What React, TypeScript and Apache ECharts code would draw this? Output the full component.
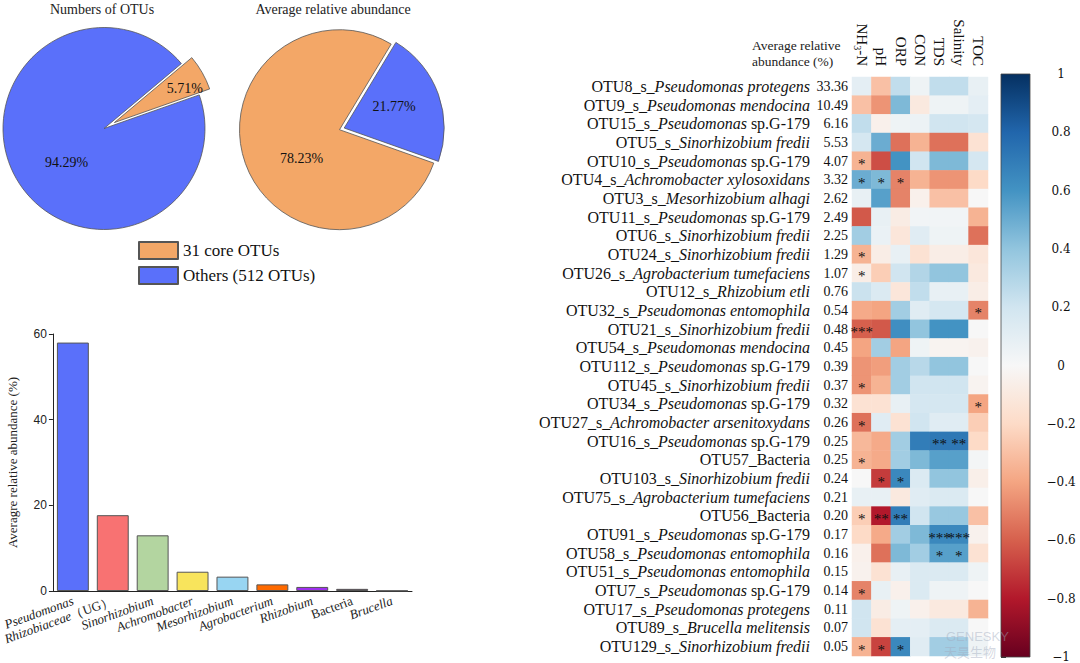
import React, { useEffect, useRef } from 'react';
import * as echarts from 'echarts';

// ---------- Pie charts ----------
const pieLegend = ['31 core OTUs', 'Others (512 OTUs)'];
const otuCountPct = [5.71, 94.29];
const abundancePct = [78.23, 21.77];
const pieTitles = ['Numbers of OTUs', 'Average relative abundance'];

// ---------- Bar chart (genus level) ----------
const genera = ['Pseudomonas', 'Rhizobiaceae', 'Sinorhizobium', 'Achromobacter', 'Mesorhizobium', 'Agrobacterium', 'Rhizobium', 'Bacteria', 'Brucella'];
const generaSuffix = ['', '（UG）', '', '', '', '', '', '', ''];
const generaItalic = [true, true, true, true, true, true, true, false, true];
const generaAbund = [58.0, 17.7, 13.0, 4.5, 3.35, 1.55, 0.95, 0.5, 0.08];
const generaColors = ['#5a70fa', '#f87272', '#b3d5a0', '#f8e45c', '#98d5f2', '#ff6a00', '#a030f0', '#4d2345', '#bbbbbb'];
const barYTicks = [0, 20, 40, 60];

// ---------- Heatmap ----------
const otuIds = ['OTU8_s_', 'OTU9_s_', 'OTU15_s_', 'OTU5_s_', 'OTU10_s_', 'OTU4_s_', 'OTU3_s_', 'OTU11_s_', 'OTU6_s_', 'OTU24_s_', 'OTU26_s_', 'OTU12_s_', 'OTU32_s_', 'OTU21_s_', 'OTU54_s_', 'OTU112_s_', 'OTU45_s_', 'OTU34_s_', 'OTU27_s_', 'OTU16_s_', 'OTU57_Bacteria', 'OTU103_s_', 'OTU75_s_', 'OTU56_Bacteria', 'OTU91_s_', 'OTU58_s_', 'OTU51_s_', 'OTU7_s_', 'OTU17_s_', 'OTU89_s_', 'OTU129_s_'];
const taxonItalic = ['Pseudomonas protegens', 'Pseudomonas mendocina', 'Pseudomonas', 'Sinorhizobium fredii', 'Pseudomonas', 'Achromobacter xylosoxidans', 'Mesorhizobium alhagi', 'Pseudomonas', 'Sinorhizobium fredii', 'Sinorhizobium fredii', 'Agrobacterium tumefaciens', 'Rhizobium etli', 'Pseudomonas entomophila', 'Sinorhizobium fredii', 'Pseudomonas mendocina', 'Pseudomonas', 'Sinorhizobium fredii', 'Pseudomonas', 'Achromobacter arsenitoxydans', 'Pseudomonas', '', 'Sinorhizobium fredii', 'Agrobacterium tumefaciens', '', 'Pseudomonas', 'Pseudomonas entomophila', 'Pseudomonas entomophila', 'Pseudomonas', 'Pseudomonas protegens', 'Brucella melitensis', 'Sinorhizobium fredii'];
const taxonPlain = ['', '', 'sp.G-179', '', 'sp.G-179', '', '', 'sp.G-179', '', '', '', '', '', '', '', 'sp.G-179', '', 'sp.G-179', '', 'sp.G-179', '', '', '', '', 'sp.G-179', '', '', 'sp.G-179', '', '', ''];
const otuAbundance = ['33.36', '10.49', '6.16', '5.53', '4.07', '3.32', '2.62', '2.49', '2.25', '1.29', '1.07', '0.76', '0.54', '0.48', '0.45', '0.39', '0.37', '0.32', '0.26', '0.25', '0.25', '0.24', '0.21', '0.20', '0.17', '0.16', '0.15', '0.14', '0.11', '0.07', '0.05'];
const envFactors = ['NH3-N', 'pH', 'ORP', 'CON', 'TDS', 'Salinity', 'TOC'];

const corrNH3N = [0.1, -0.3, 0.25, 0.18, -0.35, 0.5, 0.08, -0.62, 0.35, -0.35, -0.07, 0.22, -0.38, -0.6, -0.4, -0.45, -0.45, -0.15, -0.55, -0.33, -0.35, 0.0, 0.08, -0.25, -0.2, -0.05, -0.04, -0.5, 0.2, 0.2, -0.35];
const corrPH = [-0.3, -0.45, -0.05, 0.5, -0.65, 0.45, 0.55, 0.08, 0.07, -0.07, -0.25, 0.15, -0.4, -0.62, 0.35, -0.42, -0.35, -0.15, 0.12, -0.38, -0.38, -0.7, 0.08, -0.8, -0.38, -0.55, -0.15, 0.08, -0.08, -0.15, -0.68];
const corrORP = [0.25, 0.45, 0.05, -0.55, 0.6, -0.5, -0.5, -0.08, -0.12, 0.08, 0.2, -0.12, 0.35, 0.62, -0.4, 0.35, 0.35, 0.08, -0.15, 0.35, 0.35, 0.65, -0.1, 0.7, 0.35, 0.45, 0.08, -0.05, 0.05, 0.1, 0.65];
const corrCON = [0.05, -0.1, 0.06, -0.35, 0.2, -0.35, -0.05, 0.03, 0.12, -0.15, 0.3, 0.25, 0.12, 0.4, 0.05, 0.28, 0.2, 0.18, 0.2, 0.7, 0.45, 0.15, 0.12, 0.2, 0.45, 0.35, 0.15, 0.15, -0.05, 0.1, 0.12];
const corrTDS = [0.25, 0.05, 0.2, -0.55, 0.45, -0.45, -0.3, 0.03, 0.05, -0.07, 0.4, 0.08, 0.18, 0.6, -0.03, 0.4, 0.2, 0.18, 0.12, 0.72, 0.55, 0.4, 0.15, 0.38, 0.65, 0.55, 0.15, 0.05, -0.1, 0.15, 0.35];
const corrSalinity = [0.25, 0.05, 0.2, -0.55, 0.45, -0.45, -0.3, 0.03, 0.05, -0.07, 0.4, 0.08, 0.18, 0.6, -0.03, 0.4, 0.2, 0.18, 0.12, 0.72, 0.55, 0.4, 0.15, 0.38, 0.65, 0.55, 0.15, 0.05, -0.1, 0.15, 0.35];
const corrTOC = [0.08, 0.1, 0.18, -0.15, 0.18, -0.2, 0.0, -0.35, -0.55, -0.12, -0.1, -0.07, -0.5, 0.0, -0.04, 0.0, -0.03, -0.4, -0.25, -0.2, 0.02, -0.06, 0.0, -0.3, -0.04, -0.15, 0.05, 0.0, -0.35, 0.0, 0.05];

const sigNH3N = ['', '', '', '', '*', '*', '', '', '', '*', '*', '', '', '***', '', '', '*', '', '*', '', '*', '', '', '*', '', '', '', '*', '', '', '*'];
const sigPH = ['', '', '', '', '', '*', '', '', '', '', '', '', '', '', '', '', '', '', '', '', '', '*', '', '**', '', '', '', '', '', '', '*'];
const sigORP = ['', '', '', '', '', '*', '', '', '', '', '', '', '', '', '', '', '', '', '', '', '', '*', '', '**', '', '', '', '', '', '', '*'];
const sigCON = ['', '', '', '', '', '', '', '', '', '', '', '', '', '', '', '', '', '', '', '', '', '', '', '', '', '', '', '', '', '', ''];
const sigTDS = ['', '', '', '', '', '', '', '', '', '', '', '', '', '', '', '', '', '', '', '**', '', '', '', '', '***', '*', '', '', '', '', ''];
const sigSalinity = ['', '', '', '', '', '', '', '', '', '', '', '', '', '', '', '', '', '', '', '**', '', '', '', '', '***', '*', '', '', '', '', ''];
const sigTOC = ['', '', '', '', '', '', '', '', '', '', '', '', '*', '', '', '', '', '*', '', '', '', '', '', '', '', '', '', '', '', '', ''];

const colorbarTicks = [-1, -0.8, -0.6, -0.4, -0.2, 0, 0.2, 0.4, 0.6, 0.8, 1];
const rdbu = ['#67001f', '#b2182b', '#d6604d', '#f4a582', '#fddbc7', '#f7f7f7', '#d1e5f0', '#92c5de', '#4393c3', '#2166ac', '#053061'];

const FONT = 'Liberation Serif, Times New Roman, serif';
const SANS = 'Liberation Sans, Arial, sans-serif';
const ORANGE = '#f3a767';
const BLUE = '#5a70fa';

export default function App() {
  const ref = useRef<HTMLDivElement>(null);
  useEffect(() => {
    if (!ref.current) return;
    const chart = echarts.init(ref.current, null, { renderer: 'svg' });

    const corrCols = [corrNH3N, corrPH, corrORP, corrCON, corrTDS, corrSalinity, corrTOC];
    const sigCols = [sigNH3N, sigPH, sigORP, sigCON, sigTDS, sigSalinity, sigTOC];
    const heatData: number[][] = [];
    corrCols.forEach((col, x) => col.forEach((v, y) => heatData.push([x, y, v])));

    const pieTok = (padding: number[]) => ({ fontFamily: FONT, fontSize: 14, color: '#111', padding });
    const pieCommon = {
      type: 'pie',
      clockwise: true,
      selectedMode: 'single',
      avoidLabelOverlap: false,
      labelLine: { show: false },
      itemStyle: { borderColor: '#555', borderWidth: 0.8 },
      select: { itemStyle: { borderColor: '#555', borderWidth: 0.8 } },
      emphasis: { disabled: true },
      label: {
        show: true,
        position: 'inside',
        fontFamily: FONT,
        fontSize: 14,
        color: '#111',
        rich: {
          po1: pieTok([0, 0, 16, 48]),
          pb1: pieTok([14, 0, 0, 18]),
          po2: pieTok([22, 0, 0, 24]),
          pb2: pieTok([0, 0, 8, 0]),
        },
      },
    };

    const stops = rdbu.slice().reverse().map((c, i) => ({ offset: i / 10, color: c }));

    const option: any = {
      animation: false,
      backgroundColor: '#ffffff',
      textStyle: { fontFamily: FONT },
      legend: {
        data: pieLegend,
        left: 138,
        top: 241,
        padding: 0,
        orient: 'vertical',
        itemWidth: 39,
        itemHeight: 17,
        itemGap: 6,
        icon: 'rect',
        selectedMode: false,
        textStyle: { fontFamily: FONT, fontSize: 17, color: '#111' },
      },
      visualMap: {
        type: 'continuous',
        min: -1,
        max: 1,
        show: false,
        seriesIndex: 3,
        dimension: 2,
        inRange: { color: rdbu },
      },
      graphic: [
        { type: 'text', x: 102, y: 9, style: { text: pieTitles[0], textAlign: 'center', textVerticalAlign: 'middle', fontFamily: FONT, fontSize: 14, fill: '#222' } },
        { type: 'text', x: 333, y: 9, style: { text: pieTitles[1], textAlign: 'center', textVerticalAlign: 'middle', fontFamily: FONT, fontSize: 14, fill: '#222' } },
        { type: 'text', x: 752, y: 45, style: { text: 'Average relative', textAlign: 'left', textVerticalAlign: 'middle', fontFamily: FONT, fontSize: 13.5, fill: '#222' } },
        { type: 'text', x: 752, y: 61, style: { text: 'abundance (%)', textAlign: 'left', textVerticalAlign: 'middle', fontFamily: FONT, fontSize: 13.5, fill: '#222' } },
        { type: 'text', x: 946, y: 636, z: 100, style: { text: 'GENESKY', textAlign: 'left', textVerticalAlign: 'middle', fontFamily: SANS, fontSize: 13, fill: 'rgba(160,170,190,0.45)' } },
        { type: 'text', x: 944, y: 651, z: 100, style: { text: '天昊生物', textAlign: 'left', textVerticalAlign: 'middle', fontFamily: 'Noto Sans CJK SC, sans-serif', fontSize: 13, fill: 'rgba(160,170,190,0.45)' } },
      ],
      grid: [
        { left: 49, top: 334, width: 363, height: 257 },
        { left: 852, top: 77, width: 136, height: 579 },
        { left: 1001, top: 74, width: 29, height: 583 },
      ],
      xAxis: [
        {
          gridIndex: 0,
          type: 'category',
          data: genera,
          axisLine: { lineStyle: { color: '#222', width: 1 } },
          axisTick: { alignWithLabel: true, length: 4, lineStyle: { color: '#222' } },
          axisLabel: {
            interval: 0,
            rotate: 20,
            margin: 9,
            fontFamily: FONT,
            fontSize: 13,
            color: '#222',
            formatter: (v: string, i: number) => {
              const style = generaItalic[i] ? 'gi' : 'gn';
              return '{' + style + '|' + v + '}' + (generaSuffix[i] ? '{gn|' + generaSuffix[i] + '}' : '');
            },
            rich: {
              gi: { fontFamily: FONT, fontStyle: 'italic', fontSize: 13, color: '#222' },
              gn: { fontFamily: FONT, fontSize: 13, color: '#222' },
            },
          },
        },
        {
          gridIndex: 1,
          type: 'category',
          position: 'top',
          data: envFactors,
          axisLine: { show: false },
          axisTick: { show: false },
          axisLabel: {
            interval: 0,
            rotate: 90,
            margin: 11,
            fontFamily: FONT,
            fontSize: 15,
            color: '#111',
            formatter: (v: string) => (v === 'NH3-N' ? '{ha|NH}{hs|3}{ha|-N}' : '{ha|' + v + '}'),
            rich: {
              ha: { fontFamily: FONT, fontSize: 15, color: '#111', lineHeight: 18 },
              hs: { fontFamily: FONT, fontSize: 10, color: '#111', lineHeight: 11, verticalAlign: 'bottom' },
            },
          },
        },
        { gridIndex: 2, type: 'value', min: 0, max: 1, show: false },
      ],
      yAxis: [
        {
          gridIndex: 0,
          type: 'value',
          min: barYTicks[0],
          max: barYTicks[barYTicks.length - 1],
          interval: 20,
          name: 'Averagre relative abundance (%)',
          nameLocation: 'middle',
          nameGap: 34,
          nameTextStyle: { fontFamily: FONT, fontSize: 13, color: '#222' },
          axisLine: { show: true, lineStyle: { color: '#222' } },
          axisTick: { show: true, length: 4, lineStyle: { color: '#222' } },
          splitLine: { show: false },
          axisLabel: { fontFamily: SANS, fontSize: 12, color: '#222', margin: 6 },
        },
        {
          gridIndex: 1,
          type: 'category',
          data: otuIds,
          inverse: true,
          axisLine: { show: false },
          axisTick: { show: false },
          axisLabel: {
            interval: 0,
            margin: 4,
            fontFamily: FONT,
            fontSize: 16,
            color: '#111',
            formatter: (v: string, i: number) => {
              let s = '{rn|' + otuIds[i] + '}';
              if (taxonItalic[i]) s += '{ri|' + taxonItalic[i] + (taxonPlain[i] ? ' ' : '') + '}';
              if (taxonPlain[i]) s += '{rn|' + taxonPlain[i] + '}';
              s += '{ab|' + otuAbundance[i] + '}';
              return s;
            },
            rich: {
              rn: { fontFamily: FONT, fontSize: 16, color: '#111' },
              ri: { fontFamily: FONT, fontSize: 16, fontStyle: 'italic', color: '#111' },
              ab: { fontFamily: FONT, fontSize: 14, color: '#111', width: 38, align: 'right' },
            },
          },
        },
        {
          gridIndex: 2,
          type: 'value',
          position: 'right',
          min: colorbarTicks[0],
          max: colorbarTicks[colorbarTicks.length - 1],
          interval: 0.2,
          axisLine: { show: false },
          axisTick: { show: true, length: 5, lineStyle: { color: '#333' } },
          splitLine: { show: false },
          axisLabel: {
            margin: 31,
            align: 'center',
            fontFamily: 'DejaVu Serif, serif',
            fontSize: 12,
            color: '#111',
            formatter: (v: number) => {
              const r = Math.round(v * 10) / 10;
              return r < 0 ? '\u2212' + String(Math.abs(r)) : String(r);
            },
          },
        },
      ],
      series: [
        {
          ...pieCommon,
          center: [104, 128.5],
          radius: 101,
          startAngle: 40,
          selectedOffset: 12,
          data: [
            { name: pieLegend[0], value: otuCountPct[0], selected: true, itemStyle: { color: ORANGE }, label: { formatter: '{po1|{c}%}' } },
            { name: pieLegend[1], value: otuCountPct[1], itemStyle: { color: BLUE }, label: { formatter: '{pb1|{c}%}' } },
          ],
        },
        {
          ...pieCommon,
          center: [339.5, 129.7],
          radius: 100,
          startAngle: 340.5,
          selectedOffset: 5,
          data: [
            { name: pieLegend[0], value: abundancePct[0], itemStyle: { color: ORANGE }, label: { formatter: '{po2|{c}%}' } },
            { name: pieLegend[1], value: abundancePct[1], selected: true, itemStyle: { color: BLUE }, label: { formatter: '{pb2|{c}%}' } },
          ],
        },
        {
          type: 'bar',
          xAxisIndex: 0,
          yAxisIndex: 0,
          barCategoryGap: '20%',
          data: generaAbund.map((v, i) => ({ value: v, itemStyle: { color: generaColors[i] } })),
          itemStyle: { borderColor: '#555', borderWidth: 1 },
          emphasis: { disabled: true },
        },
        {
          type: 'heatmap',
          xAxisIndex: 1,
          yAxisIndex: 1,
          data: heatData,
          itemStyle: { borderWidth: 0 },
          emphasis: { disabled: true },
          label: {
            show: true,
            formatter: (p: any) => sigCols[p.data[0]][p.data[1]],
            fontFamily: FONT,
            fontSize: 15,
            color: '#111',
            offset: [0, 3],
          },
        },
        {
          type: 'custom',
          xAxisIndex: 2,
          yAxisIndex: 2,
          silent: true,
          clip: false,
          data: [[0, 0]],
          renderItem: (_params: any, api: any) => {
            const a = api.coord([0, 1]);
            const b = api.coord([1, -1]);
            return {
              type: 'rect',
              shape: { x: a[0], y: a[1], width: b[0] - a[0], height: b[1] - a[1] },
              style: {
                fill: new echarts.graphic.LinearGradient(0, 0, 0, 1, stops),
                stroke: '#444',
                lineWidth: 0.8,
              },
            };
          },
        },
      ],
    };

    chart.setOption(option);
    return () => chart.dispose();
  }, []);

  return (
    <div
      ref={ref}
      style={{ position: 'fixed', left: 0, top: 0, width: 1080, height: 663, background: '#fff' }}
    />
  );
}
